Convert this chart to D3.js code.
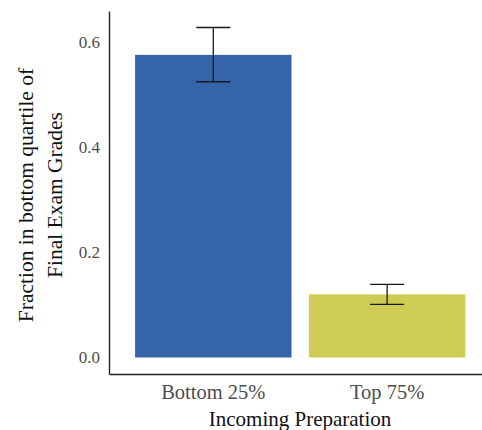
<!DOCTYPE html>
<html>
<head>
<meta charset="utf-8">
<script src="https://cdn.jsdelivr.net/npm/d3@7"></script>
<style>
  body { margin: 0; background: #fff; }
  text { font-family: "Liberation Serif", "Times New Roman", serif; }
</style>
</head>
<body>
<svg id="chart" width="482" height="430"></svg>
<script>
// data
const categories = ["Bottom 25%", "Top 75%"]
const fractions = [0.575, 0.120]
const errLow = [0.524, 0.101]
const errHigh = [0.627, 0.139]
const yTicks = [0.0, 0.2, 0.4, 0.6]
const barColors = ["#3465a8", "#cdcd55"]

const svg = d3.select("#chart")
const plotLeft = 109, plotBottom = 374, plotTop = 11

const x = d3.scaleBand().domain(categories)
  .range([plotLeft, 491.4]).paddingInner(0.1).paddingOuter(0.15)
const y = d3.scaleLinear().domain([-0.0314, 0.6584]).range([plotBottom, plotTop])

// bars
svg.selectAll("rect.bar")
  .data(categories)
  .enter().append("rect")
  .attr("class", "bar")
  .attr("x", d => x(d))
  .attr("width", x.bandwidth())
  .attr("y", (d, i) => y(fractions[i]))
  .attr("height", (d, i) => y(0) - y(fractions[i]))
  .attr("fill", (d, i) => barColors[i])

// error bars
const capHalf = 17
const cx = d => x(d) + x.bandwidth() / 2
const eb = svg.selectAll("g.err").data(categories).enter().append("g")
  .attr("class", "err")
  .attr("stroke", "#1a1a1a").attr("stroke-width", 1.3)
eb.append("line")
  .attr("x1", cx).attr("x2", cx)
  .attr("y1", (d, i) => y(errLow[i])).attr("y2", (d, i) => y(errHigh[i]))
eb.append("line")
  .attr("x1", d => cx(d) - capHalf).attr("x2", d => cx(d) + capHalf)
  .attr("y1", (d, i) => y(errHigh[i])).attr("y2", (d, i) => y(errHigh[i]))
eb.append("line")
  .attr("x1", d => cx(d) - capHalf).attr("x2", d => cx(d) + capHalf)
  .attr("y1", (d, i) => y(errLow[i])).attr("y2", (d, i) => y(errLow[i]))

// axes
const yAxis = d3.axisLeft(y).tickValues(yTicks).tickFormat(d3.format(".1f"))
  .tickSize(0).tickPadding(9)
const xAxis = d3.axisBottom(x).tickSize(0).tickPadding(10)

const gy = svg.append("g").attr("transform", "translate(" + plotLeft + ",0)").call(yAxis)
gy.selectAll("text").attr("font-size", 17).attr("fill", "#4d4d4d")
  .style("font-family", "Liberation Serif, serif")
gy.select(".domain").attr("stroke", "#222").attr("stroke-width", 1.4)

const gx = svg.append("g").attr("transform", "translate(0," + plotBottom + ")").call(xAxis)
gx.selectAll("text").attr("font-size", 20.5).attr("fill", "#4d4d4d")
  .style("font-family", "Liberation Serif, serif")
gx.select(".domain").attr("stroke", "#222").attr("stroke-width", 1.4)

// titles
svg.append("text")
  .attr("x", 300).attr("y", 426)
  .attr("text-anchor", "middle").attr("font-size", 21).attr("fill", "#111")
  .text("Incoming Preparation")

const ty = svg.append("text")
  .attr("transform", "translate(0,195) rotate(-90)")
  .attr("text-anchor", "middle").attr("font-size", 21.5).attr("fill", "#111")
ty.append("tspan").attr("x", 0).attr("y", 33).text("Fraction in bottom quartile of")
ty.append("tspan").attr("x", 0).attr("y", 62).text("Final Exam Grades")
</script>
</body>
</html>
